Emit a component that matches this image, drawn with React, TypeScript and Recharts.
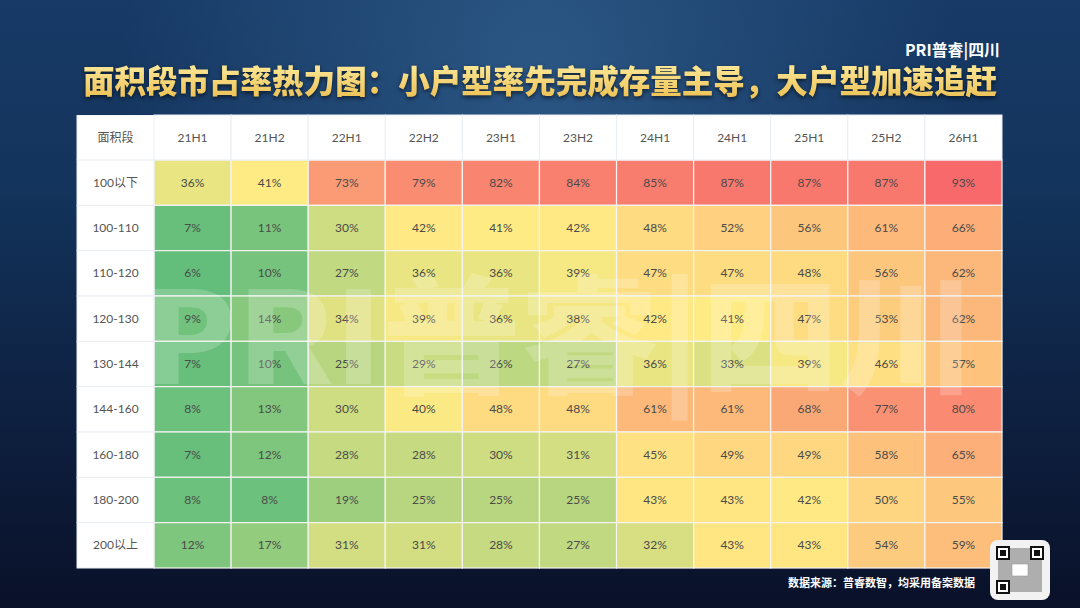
import React from "react"
import { ScatterChart, Scatter, XAxis, YAxis } from "recharts"

const periods = ["21H1", "21H2", "22H1", "22H2", "23H1", "23H2", "24H1", "24H1", "25H1", "25H2", "26H1"]
const bands = ["100以下", "100-110", "110-120", "120-130", "130-144", "144-160", "160-180", "180-200", "200以上"]

const under100 = [36, 41, 73, 79, 82, 84, 85, 87, 87, 87, 93]
const s100to110 = [7, 11, 30, 42, 41, 42, 48, 52, 56, 61, 66]
const s110to120 = [6, 10, 27, 36, 36, 39, 47, 47, 48, 56, 62]
const s120to130 = [9, 14, 34, 39, 36, 38, 42, 41, 47, 53, 62]
const s130to144 = [7, 10, 25, 29, 26, 27, 36, 33, 39, 46, 57]
const s144to160 = [8, 13, 30, 40, 48, 48, 61, 61, 68, 77, 80]
const s160to180 = [7, 12, 28, 28, 30, 31, 45, 49, 49, 58, 65]
const s180to200 = [8, 8, 19, 25, 25, 25, 43, 43, 42, 50, 55]
const over200 = [12, 17, 31, 31, 28, 27, 32, 43, 43, 54, 59]

const rows = [under100, s100to110, s110to120, s120to130, s130to144, s144to160, s160to180, s180to200, over200]

// layout of the table on the 1080x608 canvas
const TABLE_LEFT = 77
const TABLE_TOP = 115
const LABEL_W = 77
const HEAD_H = 45
const TABLE_RIGHT = 1002
const TABLE_BOTTOM = 568
const CELL_W = (TABLE_RIGHT - TABLE_LEFT - LABEL_W) / periods.length
const CELL_H = (TABLE_BOTTOM - TABLE_TOP - HEAD_H) / bands.length

const cells = rows.flatMap((vals, r) => vals.map((v, c) => ({ x: c, y: r, v })))

const allVals = cells.map((d) => d.v).sort((a, b) => a - b)
const vMin = allVals[0]
const vMax = allVals[allVals.length - 1]
const vMid = allVals[Math.floor(allVals.length / 2)]

const GREEN = [99, 190, 123]
const YELLOW = [255, 235, 132]
const RED = [248, 105, 107]

const mix = (a: number[], b: number[], t: number) =>
  `rgb(${a.map((ch, i) => Math.round(ch + (b[i] - ch) * t)).join(",")})`

// excel-style 3 colour scale
const heat = (v: number) => {
  if (v <= vMid) return mix(GREEN, YELLOW, (v - vMin) / (vMid - vMin))
  return mix(YELLOW, RED, (v - vMid) / (vMax - vMid))
}

const FONT = "Lato, 'Noto Sans CJK SC', sans-serif"
const CJK = "'Noto Sans CJK SC', sans-serif"

const HeatCell = (props: any) => {
  const { cx, cy, payload } = props
  if (cx == null || cy == null) return null
  return (
    <g>
      <rect
        x={cx - CELL_W / 2}
        y={cy - CELL_H / 2}
        width={CELL_W}
        height={CELL_H}
        fill={heat(payload.v)}
        stroke="#f4f4f4"
        strokeWidth={1.2}
      />
      <text x={cx} y={cy + 4} textAnchor="middle" fontSize={12} fill="#4a4a4a" fontFamily={FONT}>
        {payload.v}%
      </text>
    </g>
  )
}

const HeadTick = (props: any) => {
  const { x, payload } = props
  return (
    <g>
      <rect x={x - CELL_W / 2} y={TABLE_TOP} width={CELL_W} height={HEAD_H} fill="#fff" stroke="#e9eef3" />
      <text x={x} y={TABLE_TOP + HEAD_H / 2 + 4} textAnchor="middle" fontSize={12} fill="#555" fontFamily={FONT}>
        {periods[payload.value]}
      </text>
    </g>
  )
}

const BandTick = (props: any) => {
  const { y, payload } = props
  return (
    <g>
      <rect x={TABLE_LEFT} y={y - CELL_H / 2} width={LABEL_W} height={CELL_H} fill="#fff" stroke="#e9eef3" />
      <text
        x={TABLE_LEFT + LABEL_W / 2}
        y={y + 4}
        textAnchor="middle"
        fontSize={12}
        fill="#555"
        fontFamily={FONT}
      >
        {bands[payload.value]}
      </text>
    </g>
  )
}

const QrCode = () => {
  const finder = (x: number, y: number) => (
    <g>
      <rect x={x} y={y} width={14} height={14} fill="#111" />
      <rect x={x + 2} y={y + 2} width={10} height={10} fill="#fff" />
      <rect x={x + 4} y={y + 4} width={6} height={6} fill="#111" />
    </g>
  )
  return (
    <svg width={60} height={60} style={{ position: "absolute", left: 990, top: 540 }}>
      <rect x={0} y={0} width={60} height={60} rx={8} fill="#f2f2f2" />
      <rect x={8} y={8} width={44} height={44} fill="#777" opacity={0.55} />
      {finder(6, 6)}
      {finder(40, 6)}
      {finder(6, 40)}
      <rect x={22} y={24} width={16} height={12} fill="#fff" stroke="#999" strokeWidth={0.6} />
    </svg>
  )
}

export default function App() {
  return (
    <div
      style={{
        position: "relative",
        width: 1080,
        height: 608,
        overflow: "hidden",
        background:
          "radial-gradient(ellipse at 50% 10%, #2b5684 0%, rgba(30,60,100,0) 55%), linear-gradient(180deg, #173a66 0%, #13345c 30%, #0f2446 60%, #0a1129 100%)",
        fontFamily: FONT,
      }}
    >
      <style>{`body{margin:0}`}</style>

      <svg width={1080} height={110} style={{ position: "absolute", left: 0, top: 0 }}>
        <defs>
          <linearGradient id="titleGold" x1="0" y1="0" x2="0" y2="1">
            <stop offset="0%" stopColor="#fff1a8" />
            <stop offset="100%" stopColor="#ecbd4e" />
          </linearGradient>
        </defs>
        <text
          x={905}
          y={56}
          fontSize={16}
          fontWeight={700}
          fontFamily={CJK}
          fill="#fff"
          textLength={95}
          lengthAdjust="spacingAndGlyphs"
        >
          PRI普睿|四川
        </text>
        <text
          x={83}
          y={93}
          fontSize={32}
          fontWeight={900}
          fontFamily={CJK}
          fill="url(#titleGold)"
          textLength={914}
          lengthAdjust="spacingAndGlyphs"
          style={{ filter: "drop-shadow(0 2px 2px rgba(0,0,0,0.6))" }}
        >
          面积段市占率热力图：小户型率先完成存量主导，大户型加速追赶
        </text>
      </svg>

      <div
        style={{
          position: "absolute",
          left: TABLE_LEFT,
          top: TABLE_TOP,
          width: TABLE_RIGHT - TABLE_LEFT,
          height: TABLE_BOTTOM - TABLE_TOP,
          background: "#fff",
        }}
      />

      <ScatterChart
        width={1080}
        height={608}
        margin={{ top: TABLE_TOP, left: TABLE_LEFT, right: 1080 - TABLE_RIGHT, bottom: 608 - TABLE_BOTTOM }}
        style={{ position: "absolute", left: 0, top: 0 }}
      >
        <XAxis
          type="number"
          dataKey="x"
          orientation="top"
          height={HEAD_H}
          domain={[-0.5, periods.length - 0.5]}
          ticks={periods.map((_, i) => i)}
          interval={0}
          tick={<HeadTick />}
          tickLine={false}
          axisLine={false}
        />
        <YAxis
          type="number"
          dataKey="y"
          width={LABEL_W}
          reversed
          domain={[-0.5, bands.length - 0.5]}
          ticks={bands.map((_, i) => i)}
          interval={0}
          tick={<BandTick />}
          tickLine={false}
          axisLine={false}
        />
        <Scatter data={cells} shape={<HeatCell />} isAnimationActive={false} />
      </ScatterChart>

      <svg
        width={TABLE_LEFT + LABEL_W}
        height={HEAD_H}
        style={{ position: "absolute", left: 0, top: TABLE_TOP }}
      >
        <rect x={TABLE_LEFT} y={0} width={LABEL_W} height={HEAD_H} fill="#fff" stroke="#e9eef3" />
        <text
          x={TABLE_LEFT + LABEL_W / 2}
          y={HEAD_H / 2 + 4}
          textAnchor="middle"
          fontSize={12}
          fill="#555"
          fontFamily={FONT}
        >
          面积段
        </text>
      </svg>

      {/* faint logo watermark laid over the grid */}
      <svg
        width={1080}
        height={608}
        style={{ position: "absolute", left: 0, top: 0, pointerEvents: "none" }}
      >
        <text
          x={142}
          y={384}
          fontSize={128}
          fontWeight={900}
          fontFamily={CJK}
          fill="#fff"
          opacity={0.2}
          textLength={835}
          lengthAdjust="spacingAndGlyphs"
        >
          PRI普睿|四川
        </text>
      </svg>

      <div
        style={{
          position: "absolute",
          right: 105,
          top: 574,
          color: "#fff",
          fontSize: 11,
          fontWeight: 700,
          fontFamily: CJK,
        }}
      >
        数据来源：普睿数智，均采用备案数据
      </div>

      <QrCode />
    </div>
  )
}
